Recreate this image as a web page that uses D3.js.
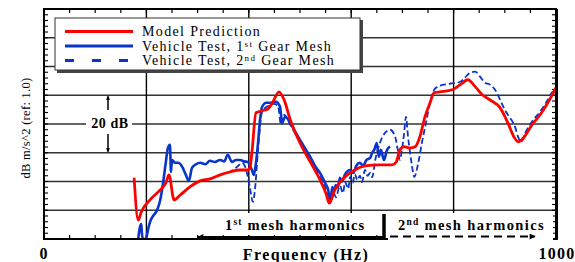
<!DOCTYPE html>
<html><head><meta charset="utf-8">
<script src="https://cdn.jsdelivr.net/npm/d3@7"></script>
<style>body{margin:0;background:#fff}svg{display:block}</style>
</head><body>
<script>
// ---- data (frequency Hz, level dB relative to plot bottom) ----
const modelFreq = [176,184,190,207,227,238,244,254,266,285,305,324,344,363,383,397,402,406,414,426,438,447,459,469,481,500,520,539,551,557,568,588,607,627,656,680,688,695,703,715,725,734,744,754,762,773,797,813,828,842,856,871,891,906,918,926,938,953,969,984,1000];
const modelDb   = [21.3,6.6,9.4,13.6,17.1,19.5,22.3,13.6,15.3,18.1,20.2,20.9,22.3,23.3,24.0,24.0,24.7,30.0,43.9,44.6,45.3,47.7,51.2,48.4,41.5,33.4,26.8,20.6,15.7,12.5,17.1,21.6,24.0,25.4,25.8,25.8,26.8,31.0,32.1,31.7,32.1,35.5,42.5,47.4,50.9,51.2,51.9,53.7,55.4,53.0,50.2,48.4,45.6,40.4,35.5,33.8,35.5,39.7,43.2,47.4,52.6];

const gear1Freq = [184,187,190,191,193,199,203,207,213,221,227,232,238,242,246,248,250,256,262,270,277,283,289,297,305,315,324,334,344,352,359,367,375,383,391,398,406,410,414,418,422,426,434,445,453,461,465,471,481,490,500,510,520,529,539,545,549,555,559,563,566,570,574,578,582,588,598,604,610,617,623,630,637,641,645,650,654,658,664,670,676];
const gear1Db   = [0,3.8,5.2,2.4,0,0,3.1,5.9,8.0,10.1,13.6,18.8,26.8,31.7,32.8,23.3,27.5,26.5,26.5,25.1,22.3,20.2,24.7,26.0,26.5,26.0,27.2,26.8,27.5,27.0,29.3,26.8,27.5,27.5,27.0,26.8,24.0,22.3,26.5,33.4,41.5,46.0,47.4,47.4,47.7,46.0,40.4,42.5,40.4,37.5,34.5,31.5,28.6,25.5,23.0,21.0,19.5,17.1,12.5,18.1,16.5,18.8,18.0,21.3,20.0,22.5,24.0,23.0,25.5,26.5,25.5,27.5,28.2,30.0,31.0,33.4,28.6,31.0,27.5,31.0,32.1];

const gear2Freq = [359,369,379,387,395,402,408,412,418,426,438,449,457,463,469,481,500,520,539,551,557,565,570,578,584,588,594,598,603,607,612,617,621,627,632,637,641,647,656,666,676,686,691,695,699,703,707,711,715,719,723,731,738,746,754,762,773,793,813,822,832,842,852,861,871,881,891,900,910,920,926,932,940,953,969,984,994,1000];
const gear2Db   = [23.0,24.0,25.4,26.5,24.0,18.1,12.9,17.1,31.0,44.3,46.3,47.0,46.3,39.7,43.2,39.7,33.8,27.5,21.6,17.1,13.6,16.4,14.5,18.5,16.0,19.9,17.5,21.6,19.5,22.6,20.5,22.0,19.8,24.0,22.0,23.0,21.5,27.5,33.4,36.9,38.0,35.5,31.0,27.5,31.0,36.2,42.5,35.5,30.0,25.1,21.6,26.5,33.4,40.4,47.4,51.9,53.3,54.0,54.7,56.1,57.8,58.2,56.4,54.4,53.7,51.9,48.4,44.9,42.2,39.0,35.5,33.8,36.9,40.8,44.3,48.4,51.2,50.2];

const xTickLabels = ["0","1000"];
const legendLabels = ["Model Prediction","Vehicle Test, 1","Vehicle Test, 2"];
const xTitle = "Frequency (Hz)";
const yTitle = "dB m/s^2 (ref: 1.0)";

// ---- layout ----
const W = 575, H = 262;
const L = 44, R = 556, T = 9, B = 239;
const svg = d3.select("body").append("svg").attr("width", W).attr("height", H);
const x = d3.scaleLinear().domain([0, 1000]).range([L, R]);
const y = d3.scaleLinear().domain([0, 80]).range([B, T]);
const serif = "'Liberation Serif','Times New Roman',serif";

// grid
const g = svg.append("g");
g.selectAll(".hg").data(d3.range(10, 80, 10)).join("line")
  .attr("x1", L).attr("x2", R).attr("y1", d => y(d)).attr("y2", d => y(d))
  .attr("stroke", "#333").attr("stroke-width", 1.4);
g.selectAll(".vg").data(d3.range(200, 1000, 200)).join("line")
  .attr("x1", d => x(d)).attr("x2", d => x(d)).attr("y1", T).attr("y2", B)
  .attr("stroke", "#000").attr("stroke-width", 1.4);

// minor ticks
const xm = d3.range(50, 1000, 50);
g.selectAll(".xtb").data(xm).join("line").attr("x1", d => x(d)).attr("x2", d => x(d))
  .attr("y1", B).attr("y2", B - 4).attr("stroke", "#000").attr("stroke-width", 1.2);
g.selectAll(".xtt").data(xm).join("line").attr("x1", d => x(d)).attr("x2", d => x(d))
  .attr("y1", T).attr("y2", T + 4).attr("stroke", "#000").attr("stroke-width", 1.2);
const ym = d3.range(2, 80, 2);
g.selectAll(".ytl").data(ym).join("line").attr("y1", d => y(d)).attr("y2", d => y(d))
  .attr("x1", L).attr("x2", L + 4).attr("stroke", "#000").attr("stroke-width", 1.1);
g.selectAll(".ytr").data(ym).join("line").attr("y1", d => y(d)).attr("y2", d => y(d))
  .attr("x1", R).attr("x2", R - 4).attr("stroke", "#000").attr("stroke-width", 1.1);

// curves
svg.append("clipPath").attr("id", "clip").append("rect")
  .attr("x", L).attr("y", T).attr("width", R - L).attr("height", B - T);
const cg = svg.append("g").attr("clip-path", "url(#clip)");
const line = d3.line().x(d => x(d[0])).y(d => y(d[1])).curve(d3.curveMonotoneX);
const zip = (a, b) => a.map((v, i) => [v, b[i]]);
const blue = "#0a35c8";
cg.append("path").datum(zip(gear2Freq, gear2Db)).attr("d", line)
  .attr("fill", "none").attr("stroke", blue).attr("stroke-width", 1.8).attr("stroke-dasharray", "6,3");
cg.append("path").datum(zip(gear1Freq, gear1Db)).attr("d", line)
  .attr("fill", "none").attr("stroke", blue).attr("stroke-width", 2.6);
cg.append("path").datum(zip(modelFreq, modelDb)).attr("d", line)
  .attr("fill", "none").attr("stroke", "#ff0000").attr("stroke-width", 2.8);

// bottom annotation strip
svg.append("rect").attr("x", 196).attr("y", 213).attr("width", 357).attr("height", 22).attr("fill", "#fff");

// frame
svg.append("rect").attr("x", L).attr("y", T).attr("width", R - L).attr("height", B - T)
  .attr("fill", "none").attr("stroke", "#000").attr("stroke-width", 2);
svg.append("line").attr("x1", R + 1).attr("x2", R + 1).attr("y1", T).attr("y2", B + 1).attr("stroke", "#000").attr("stroke-width", 2);
svg.append("rect").attr("x", 388).attr("y", 235).attr("width", 165).attr("height", 6).attr("fill", "#fff");

// arrows
const defs = svg.append("defs");
defs.append("marker").attr("id", "ah").attr("viewBox", "0 0 10 10").attr("refX", 9).attr("refY", 5)
  .attr("markerWidth", 6).attr("markerHeight", 4).attr("orient", "auto-start-reverse").attr("markerUnits", "userSpaceOnUse")
  .append("path").attr("d", "M0,0L10,5L0,10Z").attr("fill", "#000");
defs.append("marker").attr("id", "ah2").attr("viewBox", "0 0 10 10").attr("refX", 9).attr("refY", 5)
  .attr("markerWidth", 18).attr("markerHeight", 6).attr("orient", "auto-start-reverse").attr("markerUnits", "userSpaceOnUse")
  .append("path").attr("d", "M0,0L10,5L0,10Z").attr("fill", "#000");
svg.append("line").attr("x1", 384).attr("x2", 198).attr("y1", 237).attr("y2", 237)
  .attr("stroke", "#000").attr("stroke-width", 2).attr("marker-end", "url(#ah2)");
svg.append("line").attr("x1", 384).attr("x2", 384).attr("y1", 214).attr("y2", 239)
  .attr("stroke", "#000").attr("stroke-width", 3.5);
svg.append("line").attr("x1", 390).attr("x2", 535).attr("y1", 236.5).attr("y2", 236.5)
  .attr("stroke", "#000").attr("stroke-width", 2).attr("stroke-dasharray", "8,5").attr("marker-end", "url(#ah2)");

// 20 dB scale
svg.append("rect").attr("x", 86).attr("y", 114).attr("width", 46).attr("height", 18).attr("fill", "#fff");
svg.append("line").attr("x1", 108).attr("x2", 108).attr("y1", 110).attr("y2", y(50) + 1)
  .attr("stroke", "#000").attr("stroke-width", 1.5).attr("marker-end", "url(#ah)");
svg.append("line").attr("x1", 108).attr("x2", 108).attr("y1", 134).attr("y2", y(30) - 1)
  .attr("stroke", "#000").attr("stroke-width", 1.5).attr("marker-end", "url(#ah)");

const ann = svg.append("g").attr("font-family", serif).attr("font-weight", "bold").attr("font-size", 14.5)
  .attr("letter-spacing", 1.2).attr("fill", "#000");
const t1 = ann.append("text").attr("x", 225).attr("y", 230);
t1.append("tspan").text("1");
t1.append("tspan").attr("font-size", 9.5).attr("dy", -5).text("st");
t1.append("tspan").attr("dy", 5).text(" mesh harmonics");
const t2 = ann.append("text").attr("x", 398).attr("y", 230);
t2.append("tspan").text("2");
t2.append("tspan").attr("font-size", 9.5).attr("dy", -5).text("nd");
t2.append("tspan").attr("dy", 5).attr("letter-spacing", 1.4).text(" mesh harmonics");
ann.append("text").attr("x", 110).attr("y", 128).attr("text-anchor", "middle").attr("font-size", 14).attr("letter-spacing", 0.6).text("20 dB");

// legend
const lg = svg.append("g");
lg.append("rect").attr("x", 57).attr("y", 20).attr("width", 306).attr("height", 53).attr("fill", "#444");
lg.append("rect").attr("x", 55).attr("y", 18).attr("width", 305).attr("height", 52)
  .attr("fill", "#fff").attr("stroke", "#333").attr("stroke-width", 1);
const ly = [31.5, 46, 60.5];
lg.append("line").attr("x1", 65).attr("x2", 133).attr("y1", ly[0]).attr("y2", ly[0]).attr("stroke", "#ff0000").attr("stroke-width", 2.8);
lg.append("line").attr("x1", 65).attr("x2", 133).attr("y1", ly[1]).attr("y2", ly[1]).attr("stroke", blue).attr("stroke-width", 2.8);
lg.append("line").attr("x1", 65).attr("x2", 133).attr("y1", ly[2]).attr("y2", ly[2]).attr("stroke", blue).attr("stroke-width", 2.8).attr("stroke-dasharray", "9,18");
const lt = lg.append("g").attr("font-family", serif).attr("font-size", 14).attr("fill", "#000").attr("letter-spacing", 1.35);
lt.append("text").attr("x", 142).attr("y", ly[0] + 4.5).text(legendLabels[0]);
const l2 = lt.append("text").attr("x", 142).attr("y", ly[1] + 4.5);
l2.append("tspan").text(legendLabels[1]);
l2.append("tspan").attr("font-size", 9).attr("dy", -4).text("st");
l2.append("tspan").attr("dy", 4).text(" Gear Mesh");
const l3 = lt.append("text").attr("x", 142).attr("y", ly[2] + 4);
l3.append("tspan").text(legendLabels[2]);
l3.append("tspan").attr("font-size", 9).attr("dy", -4).text("nd");
l3.append("tspan").attr("dy", 4).text(" Gear Mesh");

// axis labels
const ax = svg.append("g").attr("font-family", serif).attr("font-weight", "bold").attr("font-size", 16).attr("fill", "#000").attr("letter-spacing", 1.2);
ax.append("text").attr("x", x(0)).attr("y", 259).attr("text-anchor", "middle").text(xTickLabels[0]);
ax.append("text").attr("x", x(1000) + 1).attr("y", 259).attr("text-anchor", "middle").text(xTickLabels[1]);
ax.append("text").attr("x", 306).attr("y", 260).attr("text-anchor", "middle").attr("letter-spacing", 1.4).text(xTitle);
svg.append("text").attr("transform", "translate(30,128) rotate(-90)").attr("text-anchor", "middle")
  .attr("font-family", serif).attr("font-size", 12.5).attr("letter-spacing", 0.3).attr("fill", "#000").text(yTitle);
</script>
</body></html>
